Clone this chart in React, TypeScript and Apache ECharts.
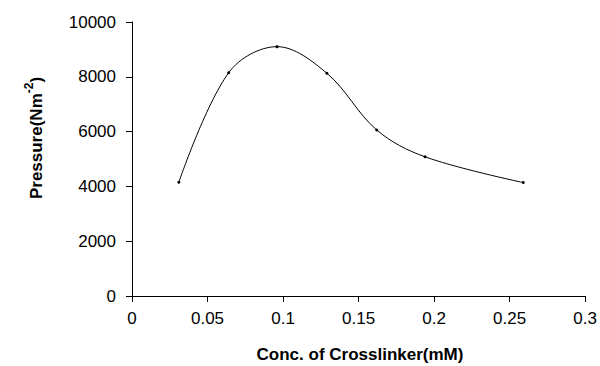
import React, { useEffect, useRef } from "react";
import * as echarts from "echarts";

const concentration = [0.031, 0.064, 0.096, 0.129, 0.162, 0.194, 0.259];
const pressure = [4150, 8150, 9100, 8130, 6060, 5080, 4140];
const xTitle = "Conc. of Crosslinker(mM)";
const yTitleMain = "Pressure(Nm";
const yTitleSup = "-2";

const FONT = "Liberation Sans, Arial, sans-serif";

export default function App() {
  const ref = useRef<HTMLDivElement>(null);
  useEffect(() => {
    if (!ref.current) return;
    const chart = echarts.init(ref.current, null, { renderer: "svg" });
    const data = concentration.map((c, i) => [c, pressure[i]]);
    chart.setOption({
      animation: false,
      backgroundColor: "#fff",
      grid: { left: 132, right: 12, top: 22, bottom: 70 },
      xAxis: {
        type: "value",
        min: 0,
        max: 0.3,
        interval: 0.05,
        axisLine: { show: true, onZero: false, lineStyle: { color: "#000", width: 1 } },
        axisTick: { show: true, inside: false, length: 6, lineStyle: { color: "#000" } },
        splitLine: { show: false },
        axisLabel: {
          color: "#000",
          fontFamily: FONT,
          fontSize: 17,
          margin: 14,
          formatter: (v: number) => String(parseFloat(v.toFixed(3))),
        },
      },
      yAxis: {
        type: "value",
        min: 0,
        max: 10000,
        interval: 2000,
        axisLine: { show: true, lineStyle: { color: "#000", width: 1 } },
        axisTick: { show: true, inside: false, length: 6, lineStyle: { color: "#000" } },
        splitLine: { show: false },
        axisLabel: {
          color: "#000",
          fontFamily: FONT,
          fontSize: 17,
          margin: 16,
          formatter: (v: number) => String(Math.round(v)),
        },
      },
      series: [
        {
          type: "line",
          data,
          smooth: 0.35,
          symbol: "circle",
          symbolSize: 3,
          showSymbol: true,
          lineStyle: { color: "#000", width: 1 },
          itemStyle: { color: "#000" },
        },
      ],
      graphic: [
        {
          type: "text",
          x: 360,
          y: 354,
          style: {
            text: xTitle,
            fontFamily: FONT,
            fontSize: 17,
            fontWeight: "bold",
            fill: "#000",
            align: "center",
            verticalAlign: "middle",
          },
        },
        {
          type: "text",
          x: 34,
          y: 138,
          rotation: Math.PI / 2,
          style: {
            text: "{a|" + yTitleMain + "}{s|" + yTitleSup + "}{a|)}",
            fontFamily: FONT,
            fill: "#000",
            align: "center",
            verticalAlign: "middle",
            rich: {
              a: { fontSize: 17, fontWeight: "bold", fontFamily: FONT, fill: "#000", verticalAlign: "bottom", lineHeight: 22 },
              s: { fontSize: 12, fontWeight: "bold", fontFamily: FONT, fill: "#000", verticalAlign: "top", lineHeight: 22 },
            },
          },
        },
      ],
    });
    return () => chart.dispose();
  }, []);
  return <div ref={ref} style={{ width: 600, height: 366, position: "absolute", left: 0, top: 0 }} />;
}
